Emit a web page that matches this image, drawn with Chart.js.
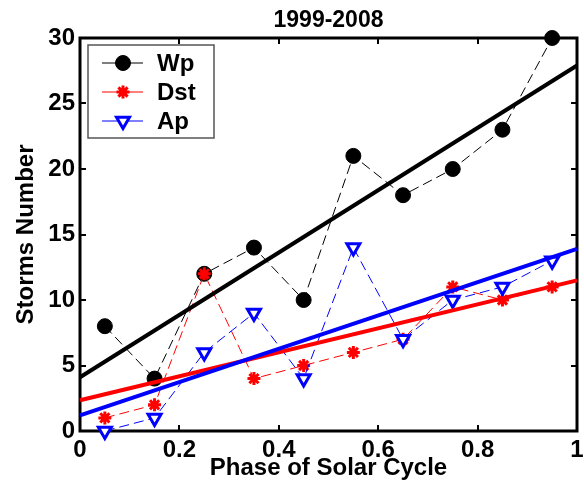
<!DOCTYPE html>
<html>
<head>
<meta charset="utf-8">
<script src="https://cdn.jsdelivr.net/npm/chart.js@4.4.0/dist/chart.umd.min.js"></script>
<style>
  html, body { margin: 0; padding: 0; background: #fff; }
  #wrap { width: 584px; height: 483px; }
</style>
</head>
<body>
<div id="wrap"><canvas id="c" width="584" height="483"></canvas></div>
<script>
// ---- data ----
const chartTitle = '1999-2008';
const xTitle = 'Phase of Solar Cycle';
const yTitle = 'Storms Number';
const phase = [0.05, 0.15, 0.25, 0.35, 0.45, 0.55, 0.65, 0.75, 0.85, 0.95];
const wp  = [8, 4, 12, 14, 10, 21, 18, 20, 23, 30];
const dst = [1, 2, 12, 4, 5, 6, 7, 11, 10, 11];
const ap  = [0, 1, 6, 9, 4, 14, 7, 10, 11, 13];
const fitX   = [0, 1];
const wpFit  = [4.1, 27.9];
const dstFit = [2.35, 11.5];
const apFit  = [1.2, 13.9];
const xTicks = [0, 0.2, 0.4, 0.6, 0.8, 1];
const yTicks = [0, 5, 10, 15, 20, 25, 30];
const seriesNames = ['Wp', 'Dst', 'Ap'];

const FONT = '"Liberation Sans", Arial, Helvetica, sans-serif';
const pts = (xs, ys) => xs.map((v, i) => ({x: v, y: ys[i]}));

const styles = {
  Wp:  {color: '#000000', pointStyle: 'circle',   radius: 7.5, fill: '#000000', bw: 1, rot: 0},
  Dst: {color: '#ff0000', pointStyle: 'star',     radius: 6.5, fill: '#ff0000', bw: 3, rot: 0},
  Ap:  {color: '#0000ff', pointStyle: 'triangle', radius: 7.5, fill: '#ffffff', bw: 3, rot: 180}
};

function dataSet(name, ys, order) {
  const s = styles[name];
  return {
    label: name, data: pts(phase, ys), order: order,
    borderColor: s.color, borderWidth: 1, borderDash: [10, 5],
    pointStyle: s.pointStyle, pointRadius: s.radius, pointRotation: s.rot,
    pointBackgroundColor: s.fill, pointBorderColor: s.color, pointBorderWidth: s.bw,
    pointHoverRadius: s.radius, tension: 0, clip: false, fill: false
  };
}
function fitSet(name, ys, order) {
  return {
    label: name + ' fit', data: pts(fitX, ys), order: order,
    borderColor: styles[name].color, borderWidth: 4, pointRadius: 0,
    tension: 0, clip: false, fill: false
  };
}

function drawMarker(ctx, name, x, y) {
  const s = styles[name];
  ctx.save();
  ctx.strokeStyle = s.color; ctx.fillStyle = s.fill; ctx.lineWidth = s.bw;
  const r = s.radius;
  ctx.beginPath();
  if (s.pointStyle === 'circle') {
    ctx.arc(x, y, r, 0, Math.PI * 2); ctx.fill(); ctx.stroke();
  } else if (s.pointStyle === 'star') {
    for (let k = 0; k < 4; k++) {
      const a = k * Math.PI / 4;
      ctx.moveTo(x - Math.cos(a) * r, y - Math.sin(a) * r);
      ctx.lineTo(x + Math.cos(a) * r, y + Math.sin(a) * r);
    }
    ctx.stroke();
  } else {
    let rad = Math.PI;
    ctx.moveTo(x + Math.sin(rad) * r, y - Math.cos(rad) * r);
    rad += 2 * Math.PI / 3;
    ctx.lineTo(x + Math.sin(rad) * r, y - Math.cos(rad) * r);
    rad += 2 * Math.PI / 3;
    ctx.lineTo(x + Math.sin(rad) * r, y - Math.cos(rad) * r);
    ctx.closePath(); ctx.fill(); ctx.stroke();
  }
  ctx.restore();
}

const RIGHT_GAP = 7;

const framePlugin = {
  id: 'frame',
  afterLayout(chart) {
    const x = chart.scales.x, a = chart.chartArea;
    const R = chart.width - RIGHT_GAP;
    a.right = R; a.width = R - a.left;
    x.right = R; x.width = R - x.left;
    x.configure();
  },
  beforeDatasetsDraw(chart) {
    const {ctx, chartArea: a, scales: {x, y}} = chart;
    ctx.save();
    ctx.strokeStyle = '#000';
    ctx.lineWidth = 2;
    ctx.beginPath();
    xTicks.forEach(v => {
      const px = Math.round(x.getPixelForValue(v));
      ctx.moveTo(px, a.bottom); ctx.lineTo(px, a.bottom - 6);
      ctx.moveTo(px, a.top); ctx.lineTo(px, a.top + 6);
    });
    yTicks.forEach(v => {
      const py = Math.round(y.getPixelForValue(v));
      ctx.moveTo(a.left, py); ctx.lineTo(a.left + 6, py);
      ctx.moveTo(a.right, py); ctx.lineTo(a.right - 6, py);
    });
    ctx.stroke();
    ctx.lineWidth = 3;
    ctx.strokeRect(a.left, a.top, a.right - a.left, a.bottom - a.top);
    ctx.restore();
  },
  afterDraw(chart) {
    const {ctx, chartArea: a} = chart;
    ctx.save();
    ctx.fillStyle = '#000';
    ctx.font = 'bold 23px ' + FONT;
    ctx.textAlign = 'center';
    ctx.textBaseline = 'alphabetic';
    ctx.fillText(chartTitle, (a.left + a.right) / 2, 27);
    const bx = 88, by = 45, bw = 126, bh = 93;
    ctx.fillStyle = '#fff';
    ctx.fillRect(bx, by, bw, bh);
    ctx.strokeStyle = '#555';
    ctx.lineWidth = 1.5;
    ctx.strokeRect(bx, by, bw, bh);
    const rows = [63, 92, 121];
    seriesNames.forEach((n, i) => {
      const yy = rows[i];
      ctx.strokeStyle = styles[n].color;
      ctx.lineWidth = 1;
      ctx.beginPath(); ctx.moveTo(102, yy); ctx.lineTo(143, yy); ctx.stroke();
      drawMarker(ctx, n, 123, yy);
      ctx.fillStyle = '#000';
      ctx.font = 'bold 24px ' + FONT;
      ctx.textAlign = 'left';
      ctx.textBaseline = 'middle';
      ctx.fillText(n, 157, yy + 1);
    });
    ctx.restore();
  }
};

new Chart(document.getElementById('c'), {
  type: 'line',
  data: {
    datasets: [
      dataSet('Wp', wp, 5),
      dataSet('Dst', dst, 4),
      dataSet('Ap', ap, 3),
      fitSet('Wp', wpFit, 2),
      fitSet('Dst', dstFit, 1),
      fitSet('Ap', apFit, 0)
    ]
  },
  options: {
    responsive: false,
    animation: false,
    devicePixelRatio: 1,
    layout: {padding: {top: 38, right: 7, left: 0, bottom: 0}},
    plugins: {legend: {display: false}, title: {display: false}, tooltip: {enabled: false}},
    scales: {
      x: {
        type: 'linear', min: 0, max: 1,
        afterBuildTicks: s => { s.ticks = xTicks.map(v => ({value: v})); },
        afterFit: s => { s.height = 52; },
        grid: {display: false, drawTicks: false},
        border: {display: false},
        ticks: {color: '#000', padding: 5, font: {family: FONT, size: 24, weight: 'bold'},
                maxRotation: 0, callback: v => String(v)},
        title: {display: true, text: xTitle, color: '#000', padding: {top: 0, bottom: 0},
                font: {family: FONT, size: 24, weight: 'bold'}}
      },
      y: {
        type: 'linear', min: 0, max: 30,
        afterBuildTicks: s => { s.ticks = yTicks.map(v => ({value: v})); },
        afterFit: s => { s.width = 80; },
        grid: {display: false, drawTicks: false},
        border: {display: false},
        ticks: {color: '#000', padding: 5, font: {family: FONT, size: 24, weight: 'bold'}},
        title: {display: true, text: yTitle, color: '#000', padding: {top: 12, bottom: 0},
                font: {family: FONT, size: 24, weight: 'bold'}}
      }
    }
  },
  plugins: [framePlugin]
});
</script>
</body>
</html>
